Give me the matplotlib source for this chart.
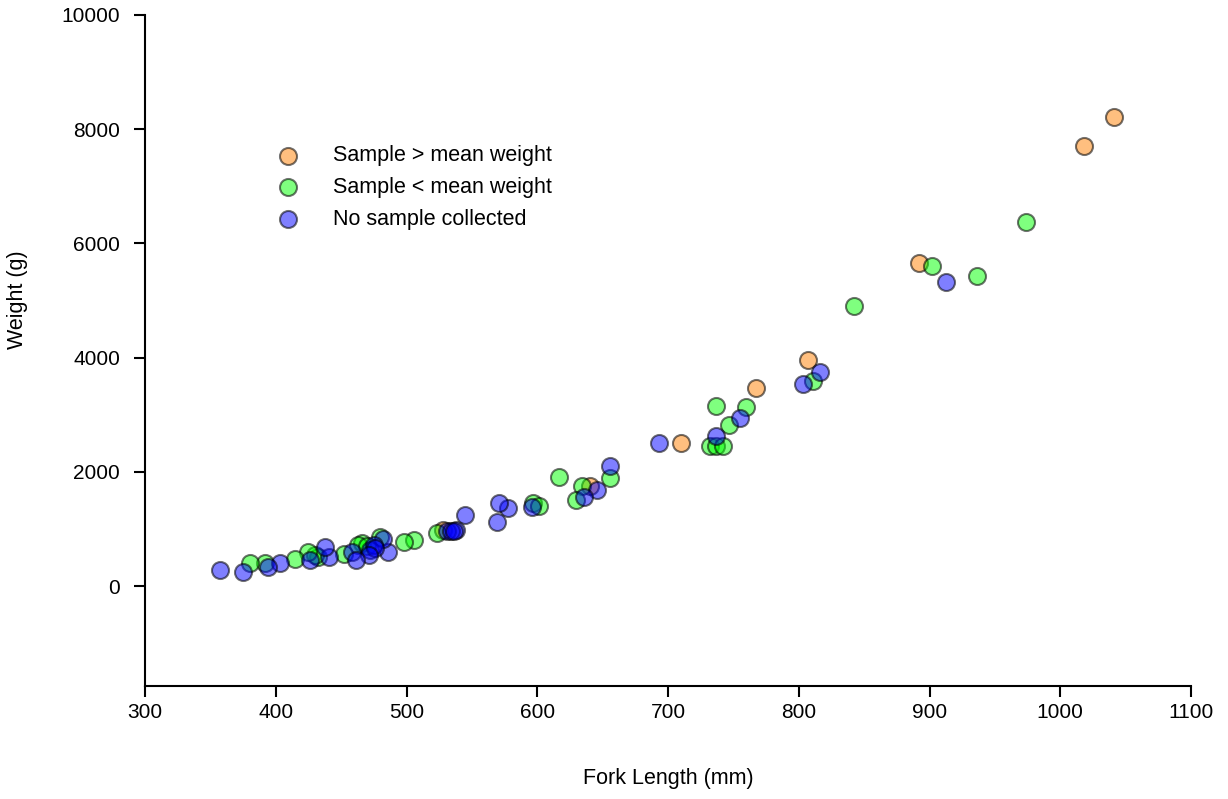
import numpy as np
import matplotlib
matplotlib.use('Agg')
import matplotlib.pyplot as plt

plt.rcParams['font.family'] = ['Liberation Sans', 'DejaVu Sans']

# fork length (mm) and weight (g), by sample group
above_len = [1041, 1018, 892, 807, 767, 710, 528, 640]
above_wt = [8210, 7700, 5660, 3960, 3460, 2500, 980, 1760]

below_len = [974, 936, 902, 842, 811, 737, 760, 747, 732, 737, 742,
             656, 617, 634, 630, 597, 601, 523, 506, 498, 480,
             466, 463, 470, 452, 432, 430, 425, 415, 392, 380]
below_wt = [6380, 5430, 5600, 4910, 3590, 3150, 3140, 2820, 2460, 2450, 2460,
            1900, 1910, 1750, 1500, 1450, 1400, 930, 800, 770, 860,
            750, 720, 700, 560, 515, 545, 600, 467, 397, 397]

none_len = [913, 816, 803, 755, 737, 693, 656, 646, 636, 596, 578, 571,
            569, 545, 538, 531, 534, 536, 486, 482, 472, 475, 476, 471,
            458, 461, 441, 438, 426, 403, 394, 375, 357]
none_wt = [5330, 3740, 3530, 2940, 2630, 2500, 2100, 1690, 1560, 1380, 1360, 1450,
           1130, 1240, 980, 960, 965, 970, 600, 820, 630, 718, 666, 543,
           600, 455, 513, 690, 455, 408, 338, 250, 280]

labels = ['Sample > mean weight', 'Sample < mean weight', 'No sample collected']

fig = plt.figure(figsize=(12.28, 7.99), dpi=100)
ax = fig.add_axes([145/1228, 1-686/799, (1191-145)/1228, (686-15)/799])

edge = (0, 0, 0, 0.55)
ax.scatter(above_len, above_wt, s=150, facecolor=(1, 0.5, 0, 0.5), edgecolor=edge, linewidth=1.5, label=labels[0])
ax.scatter(below_len, below_wt, s=150, facecolor=(0, 1, 0, 0.5), edgecolor=edge, linewidth=1.5, label=labels[1])
ax.scatter(none_len, none_wt, s=150, facecolor=(0, 0, 1, 0.5), edgecolor=edge, linewidth=1.5, label=labels[2])

ax.set_xlim(300, 1100)
ax.set_ylim(-1750, 10000)
ax.set_xticks(np.arange(300, 1101, 100))
ax.set_yticks(np.arange(0, 10001, 2000))

for s in ['top', 'right']:
    ax.spines[s].set_visible(False)
for s in ['left', 'bottom']:
    ax.spines[s].set_linewidth(1.5)
ax.tick_params(direction='out', length=8, width=1.5, labelsize=15)
ax.tick_params(axis='y', pad=10)
ax.tick_params(axis='x', pad=4)

ax.set_xlabel('Fork Length (mm)', fontsize=15.5)
ax.set_ylabel('Weight (g)', fontsize=15.5)
ax.xaxis.set_label_coords(0.5, -0.122)
ax.yaxis.set_label_coords(-0.112, 0.575)

ax.legend(loc='upper left', bbox_to_anchor=(0.126, 0.806), frameon=False,
          fontsize=15.5, handlelength=1, handletextpad=1.6, labelspacing=0.5,
          borderpad=0, borderaxespad=0, scatterpoints=1)

fig.savefig('out.png', dpi=100)
